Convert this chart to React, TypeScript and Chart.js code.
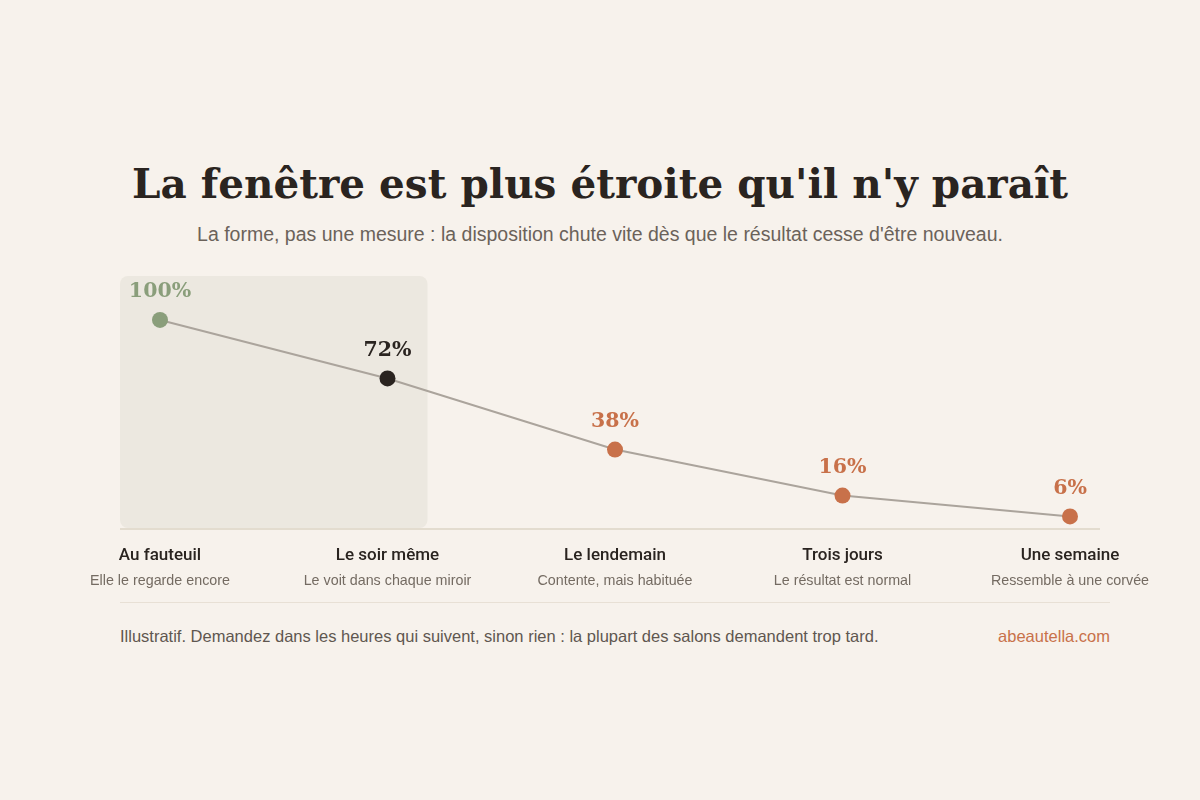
import React, { useEffect, useRef } from "react";
import Chart from "chart.js/auto";

const stages = ["Au fauteuil", "Le soir même", "Le lendemain", "Trois jours", "Une semaine"];
const notes = [
  "Elle le regarde encore",
  "Le voit dans chaque miroir",
  "Contente, mais habituée",
  "Le résultat est normal",
  "Ressemble à une corvée",
];
const disposition = [100, 72, 38, 16, 6];
const pointColors = ["#8a9e7b", "#2a2420", "#c8714a", "#c8714a", "#c8714a"];

const SERIF = "'DejaVu Serif', Georgia, 'Liberation Serif', serif";
const SANS = "'Liberation Sans', Arial, sans-serif";

const decorPlugin = {
  id: "decor",
  beforeDatasetsDraw(chart: any) {
    const { ctx, chartArea, scales } = chart;
    const x = scales.x;
    const y = scales.y;
    const left = x.getPixelForValue(0) - 40;
    const right = x.getPixelForValue(1) + 40;
    const top = chartArea.top;
    const bottom = y.getPixelForValue(0) - 1;
    ctx.save();
    ctx.fillStyle = "#ece8e0";
    ctx.beginPath();
    (ctx as any).roundRect(left, top, right - left, bottom - top, 8);
    ctx.fill();
    // baseline
    ctx.strokeStyle = "#ddd4c6";
    ctx.lineWidth = 1.5;
    ctx.beginPath();
    ctx.moveTo(chartArea.left, y.getPixelForValue(0));
    ctx.lineTo(chartArea.right, y.getPixelForValue(0));
    ctx.stroke();
    ctx.restore();
  },
  afterDatasetsDraw(chart: any) {
    const { ctx, scales } = chart;
    const x = scales.x;
    const y = scales.y;
    const base = y.getPixelForValue(0);
    ctx.save();
    ctx.textAlign = "center";
    ctx.textBaseline = "middle";
    disposition.forEach((v, i) => {
      const px = x.getPixelForValue(i);
      const py = y.getPixelForValue(v);
      ctx.font = `bold 20.5px ${SERIF}`;
      ctx.fillStyle = pointColors[i];
      ctx.fillText(v + "%", px, py - 28);
      ctx.font = `500 17px Roboto, ${SANS}`;
      ctx.fillStyle = "#2a2420";
      ctx.fillText(stages[i], px, base + 27);
      ctx.font = `14.3px ${SANS}`;
      ctx.fillStyle = "#746b62";
      ctx.fillText(notes[i], px, base + 52);
    });
    ctx.restore();
  },
};

function DispositionChart() {
  const canvasRef = useRef<HTMLCanvasElement | null>(null);
  const chartRef = useRef<Chart | null>(null);

  useEffect(() => {
    const canvas = canvasRef.current;
    if (!canvas) return;
    if (chartRef.current) {
      chartRef.current.destroy();
      chartRef.current = null;
    }
    chartRef.current = new Chart(canvas, {
      type: "line",
      data: {
        datasets: [
          {
            data: disposition.map((v, i) => ({ x: i, y: v })),
            borderColor: "#aba49c",
            borderWidth: 2,
            pointRadius: 8,
            pointHoverRadius: 8,
            pointBackgroundColor: pointColors,
            pointBorderColor: pointColors,
            pointBorderWidth: 0,
            tension: 0,
            fill: false,
          },
        ],
      },
      options: {
        animation: false,
        responsive: true,
        maintainAspectRatio: false,
        layout: { padding: { left: 120, right: 100, top: 16, bottom: 71 } },
        plugins: { legend: { display: false }, tooltip: { enabled: false } },
        scales: {
          x: { type: "linear", display: false, min: -40 / 227.5, max: 4 + 30 / 227.5 },
          y: { display: false, min: 0, max: 121 },
        },
      },
      plugins: [decorPlugin],
    } as any);

    return () => {
      if (chartRef.current) {
        chartRef.current.destroy();
        chartRef.current = null;
      }
    };
  }, []);

  return (
    <div style={{ position: "absolute", left: 0, top: 260, width: 1200, height: 340 }}>
      <canvas ref={canvasRef} />
    </div>
  );
}

export default function App() {
  return (
    <div
      style={{
        position: "fixed",
        inset: 0,
        width: 1200,
        height: 800,
        background: "#f7f2ec",
        overflow: "hidden",
      }}
    >
      <div
        style={{
          position: "absolute",
          top: 154,
          left: 0,
          width: 1200,
          textAlign: "center",
          fontFamily: SERIF,
          fontWeight: 700,
          fontSize: 40.5,
          lineHeight: "60px",
          color: "#2a2420",
        }}
      >
        La fenêtre est plus étroite qu'il n'y paraît
      </div>
      <div
        style={{
          position: "absolute",
          top: 222,
          left: 0,
          width: 1200,
          textAlign: "center",
          fontFamily: SANS,
          fontSize: 19.5,
          lineHeight: "24px",
          color: "#6b625a",
        }}
      >
        La forme, pas une mesure : la disposition chute vite dès que le résultat cesse d'être nouveau.
      </div>
      <DispositionChart />
      <div
        style={{
          position: "absolute",
          top: 602,
          left: 120,
          width: 990,
          height: 1,
          background: "#e8e0d5",
        }}
      />
      <div
        style={{
          position: "absolute",
          top: 626,
          left: 120,
          fontFamily: SANS,
          fontSize: 16.5,
          lineHeight: "20px",
          color: "#5f5750",
        }}
      >
        Illustratif. Demandez dans les heures qui suivent, sinon rien : la plupart des salons demandent trop tard.
      </div>
      <div
        style={{
          position: "absolute",
          top: 626,
          right: 90,
          fontFamily: SANS,
          fontSize: 16.5,
          lineHeight: "20px",
          color: "#c8714a",
        }}
      >
        abeautella.com
      </div>
    </div>
  );
}
